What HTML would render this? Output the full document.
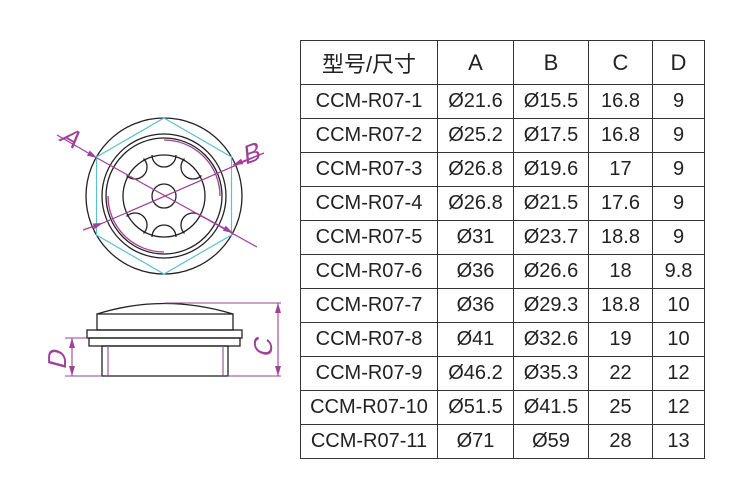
<!DOCTYPE html><html><head><style>
body{margin:0;width:750px;height:500px;background:#fff;overflow:hidden;position:relative;font-family:"Liberation Sans","Noto Sans CJK SC",sans-serif}
table{position:absolute;left:300px;top:40px;border-collapse:collapse}
td{border:1.3px solid #333;text-align:center;font-size:20px;color:#222;padding:0;height:33px}
tr:first-child td{height:43px;font-size:22px}
</style></head><body>
<svg width="750" height="500" style="position:absolute;left:0;top:0">
<defs><marker id="ar" markerWidth="10" markerHeight="6" refX="10" refY="3" orient="auto" markerUnits="userSpaceOnUse"><path d="M0,0L10,3L0,6z" fill="#a0409a"/></marker></defs>
<g fill="none" stroke="#222" stroke-width="1.3">
<circle cx="164" cy="196" r="78"/>
<circle cx="164" cy="196" r="62"/>
<circle cx="164" cy="196" r="58"/>
<circle cx="164" cy="196" r="41"/>
<circle cx="164" cy="196" r="12"/>
<path d="M152,155A12,12 0 0 0 176,155"/>
<path d="M176,237A12,12 0 0 0 152,237"/>
<path d="M184.5,158.5A12,12 0 0 0 201.5,175.5"/>
<path d="M126.5,175.5A12,12 0 0 0 143.5,158.5"/>
<path d="M143.5,233.5A12,12 0 0 0 126.5,216.5"/>
<path d="M201.5,216.5A12,12 0 0 0 184.5,233.5"/>
</g>
<polygon points="164,118 231.5,157 231.5,235 164,274 96.5,235 96.5,157" fill="none" stroke="#5bc0d0" stroke-width="1.2"/>
<path d="M164,140 A56,56 0 0 1 220,196" fill="none" stroke="#a0409a" stroke-width="1.3"/>
<path d="M108,196 A56,56 0 0 0 164,252" fill="none" stroke="#a0409a" stroke-width="1.3"/>
<g stroke="#a0409a" stroke-width="1.2" fill="none">
<line x1="57" y1="135" x2="97" y2="158" marker-end="url(#ar)"/>
<line x1="97" y1="158" x2="257" y2="247"/>
<line x1="200" y1="215" x2="233" y2="233" marker-end="url(#ar)"/>
<line x1="83" y1="230" x2="103" y2="223" marker-end="url(#ar)"/>
<line x1="103" y1="223" x2="264" y2="153"/>
<line x1="264" y1="153" x2="233" y2="165" marker-end="url(#ar)"/>
</g>
<text transform="translate(58,140) rotate(30) skewX(-15)" font-size="26" fill="#a0409a">A</text>
<text transform="translate(245,165) rotate(-20) skewX(-15)" font-size="26" fill="#a0409a">B</text>
<g fill="none" stroke="#222" stroke-width="1.3">
<path d="M97,314 Q164,293 233,314"/>
<rect x="97" y="314" width="136" height="16"/>
<rect x="87" y="330" width="155" height="8"/>
<rect x="89" y="338" width="151" height="8"/>
<rect x="102" y="346" width="126" height="30"/>
</g>
<g stroke="#a0409a" stroke-width="1.1" fill="none">
<line x1="108" y1="346" x2="108" y2="376"/><line x1="223" y1="346" x2="223" y2="376"/>
<line x1="65" y1="338" x2="87" y2="338"/><line x1="65" y1="376" x2="102" y2="376"/>
<line x1="72" y1="357" x2="72" y2="338" marker-end="url(#ar)"/><line x1="72" y1="357" x2="72" y2="376" marker-end="url(#ar)"/>
<line x1="165" y1="303" x2="281" y2="303"/><line x1="228" y1="376" x2="281" y2="376"/>
<line x1="278" y1="340" x2="278" y2="303" marker-end="url(#ar)"/><line x1="278" y1="340" x2="278" y2="376" marker-end="url(#ar)"/>
</g>
<text transform="translate(66,370) rotate(-90) skewX(-15)" font-size="26" fill="#a0409a">D</text>
<text transform="translate(272,358) rotate(-90) skewX(-15)" font-size="26" fill="#a0409a">C</text>
</svg>
<table>
<tr><td style="width:136px">型号/尺寸</td><td style="width:75px">A</td><td style="width:74px">B</td><td style="width:63px">C</td><td style="width:51px">D</td></tr>
<tr><td>CCM-R07-1</td><td>Ø21.6</td><td>Ø15.5</td><td>16.8</td><td>9</td></tr>
<tr><td>CCM-R07-2</td><td>Ø25.2</td><td>Ø17.5</td><td>16.8</td><td>9</td></tr>
<tr><td>CCM-R07-3</td><td>Ø26.8</td><td>Ø19.6</td><td>17</td><td>9</td></tr>
<tr><td>CCM-R07-4</td><td>Ø26.8</td><td>Ø21.5</td><td>17.6</td><td>9</td></tr>
<tr><td>CCM-R07-5</td><td>Ø31</td><td>Ø23.7</td><td>18.8</td><td>9</td></tr>
<tr><td>CCM-R07-6</td><td>Ø36</td><td>Ø26.6</td><td>18</td><td>9.8</td></tr>
<tr><td>CCM-R07-7</td><td>Ø36</td><td>Ø29.3</td><td>18.8</td><td>10</td></tr>
<tr><td>CCM-R07-8</td><td>Ø41</td><td>Ø32.6</td><td>19</td><td>10</td></tr>
<tr><td>CCM-R07-9</td><td>Ø46.2</td><td>Ø35.3</td><td>22</td><td>12</td></tr>
<tr><td>CCM-R07-10</td><td>Ø51.5</td><td>Ø41.5</td><td>25</td><td>12</td></tr>
<tr><td>CCM-R07-11</td><td>Ø71</td><td>Ø59</td><td>28</td><td>13</td></tr>
</table>
</body></html>
